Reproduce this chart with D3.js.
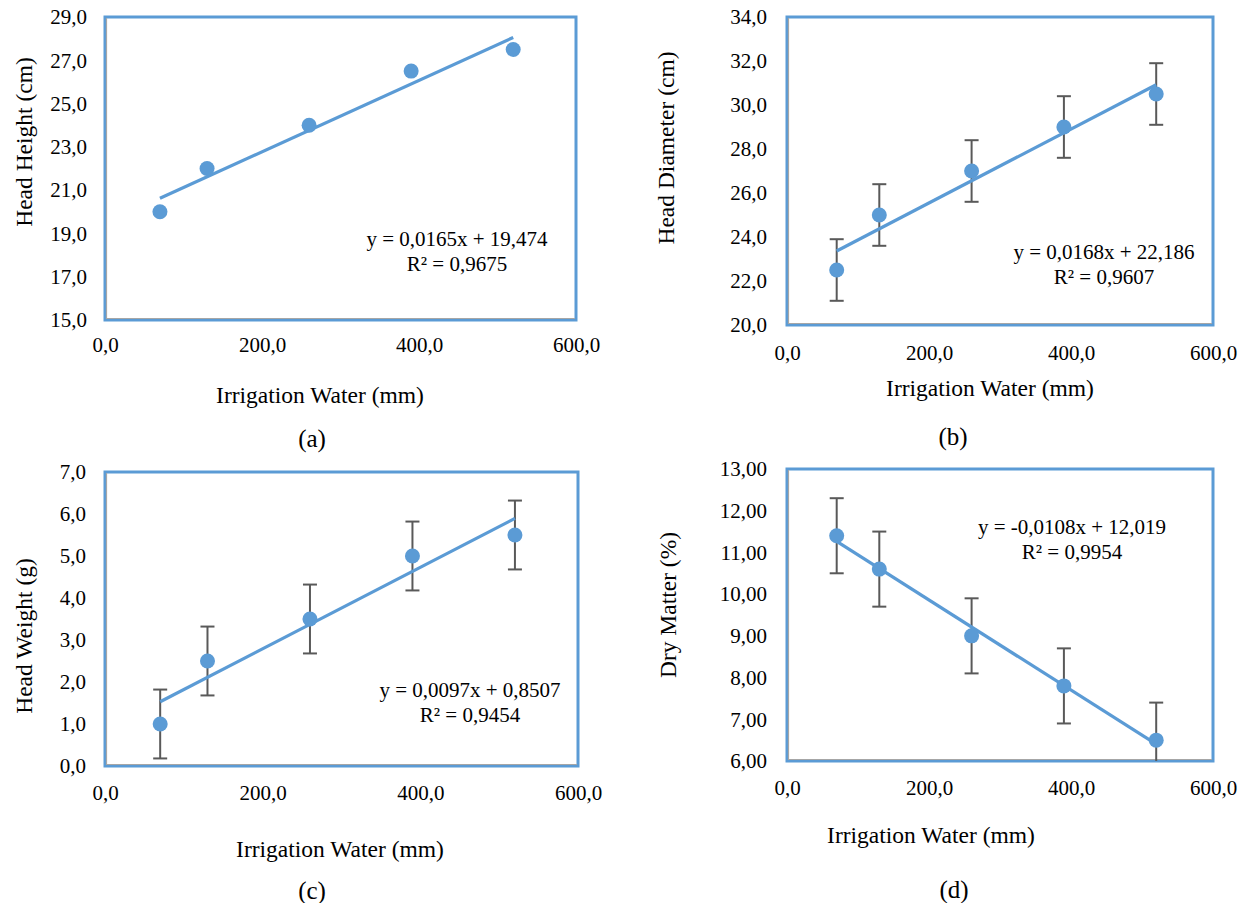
<!DOCTYPE html>
<html>
<head>
<meta charset="utf-8">
<script src="https://cdn.jsdelivr.net/npm/d3@7"></script>
<style>
  body { margin: 0; background: #fff; }
  svg { display: block; }
  text { font-family: "Liberation Serif", "Times New Roman", serif; fill: #000; }
</style>
</head>
<body>
<div id="chart"></div>
<script>
// data
const irrigation = [70, 130, 260, 390, 520];

const headHeight = [20.0, 22.0, 24.0, 26.5, 27.5];
const headDiameter = [22.5, 25.0, 27.0, 29.0, 30.5];
const headDiameterErr = [1.4, 1.4, 1.4, 1.4, 1.4];
const headWeight = [1.0, 2.5, 3.5, 5.0, 5.5];
const headWeightErr = [0.82, 0.82, 0.82, 0.82, 0.82];
const dryMatter = [11.4, 10.6, 9.0, 7.8, 6.5];
const dryMatterErr = [0.9, 0.9, 0.9, 0.9, 0.9];

// trend lines [slope, intercept]
const trendA = [0.0165, 19.474];
const trendB = [0.0168, 22.186];
const trendC = [0.0097, 0.8507];
const trendD = [-0.0108, 12.019];

const equations = [
  ["y = 0,0165x + 19,474", "R² = 0,9675"],
  ["y = 0,0168x + 22,186", "R² = 0,9607"],
  ["y = 0,0097x + 0,8507", "R² = 0,9454"],
  ["y = -0,0108x + 12,019", "R² = 0,9954"]
];

const xTicks = [0, 200, 400, 600];
const yTicksA = [15, 17, 19, 21, 23, 25, 27, 29];
const yTicksB = [20, 22, 24, 26, 28, 30, 32, 34];
const yTicksC = [0, 1, 2, 3, 4, 5, 6, 7];
const yTicksD = [6, 7, 8, 9, 10, 11, 12, 13];

const width = 1247;
const height = 903;

const blue = "#5b9bd5";
const errGray = "#595959";
const tickSize = 21;
const titleSize = 23.5;

const locale = d3.formatLocale({ decimal: ",", thousands: ".", grouping: [3], currency: ["", ""] });
const fmt1 = locale.format(".1f");
const fmt2 = locale.format(".2f");

const svg = d3.select("#chart")
  .append("svg")
  .attr("width", width)
  .attr("height", height);

function drawPanel(p) {
  const x = d3.scaleLinear().domain([0, 600]).range([p.left, p.right]);
  const y = d3.scaleLinear().domain(d3.extent(p.yTicks)).range([p.bottom, p.top]);
  const g = svg.append("g");

  // plot box
  g.append("rect")
    .attr("x", p.left)
    .attr("y", p.top)
    .attr("width", p.right - p.left)
    .attr("height", p.bottom - p.top)
    .attr("fill", "#fff")
    .attr("stroke", blue)
    .attr("stroke-width", 3);
  // gray axis lines just inside
  g.append("path")
    .attr("d", `M${p.left + 1.5},${p.top + 1}V${p.bottom - 1.5}H${p.right - 1}`)
    .attr("fill", "none")
    .attr("stroke", "#a6a6a6")
    .attr("stroke-width", 1.2);

  // y axis
  const yAxis = g.append("g")
    .attr("transform", `translate(${p.left - p.yPad},0)`)
    .call(d3.axisLeft(y).tickValues(p.yTicks).tickSize(0).tickPadding(0).tickFormat(p.yFmt));
  yAxis.select(".domain").remove();
  yAxis.selectAll("text")
    .attr("font-size", tickSize)
    .attr("font-family", "Liberation Serif, Times New Roman, serif")
    .attr("fill", "#000");

  // x axis
  const xAxis = g.append("g")
    .attr("transform", `translate(0,${p.bottom + p.xPad})`)
    .call(d3.axisBottom(x).tickValues(xTicks).tickSize(0).tickPadding(0).tickFormat(fmt1));
  xAxis.select(".domain").remove();
  xAxis.selectAll("text")
    .attr("y", 0)
    .attr("dy", "0.35em")
    .attr("font-size", tickSize)
    .attr("font-family", "Liberation Serif, Times New Roman, serif")
    .attr("fill", "#000");

  // error bars
  if (p.err) {
    const eb = g.append("g")
      .attr("stroke", errGray)
      .attr("stroke-width", 2);
    p.values.forEach((v, i) => {
      const cx = x(irrigation[i]);
      const y1 = y(Math.max(v - p.err[i], d3.min(p.yTicks)));
      const y2 = y(v + p.err[i]);
      eb.append("line").attr("x1", cx).attr("x2", cx).attr("y1", y1).attr("y2", y2);
      eb.append("line").attr("x1", cx - 7).attr("x2", cx + 7).attr("y1", y2).attr("y2", y2);
      if (v - p.err[i] > d3.min(p.yTicks)) {
        eb.append("line").attr("x1", cx - 7).attr("x2", cx + 7).attr("y1", y1).attr("y2", y1);
      }
    });
  }

  // trend line
  const x0 = d3.min(irrigation), x1 = d3.max(irrigation);
  g.append("line")
    .attr("x1", x(x0))
    .attr("y1", y(p.trend[0] * x0 + p.trend[1]))
    .attr("x2", x(x1))
    .attr("y2", y(p.trend[0] * x1 + p.trend[1]))
    .attr("stroke", blue)
    .attr("stroke-width", 3.2);

  // points
  g.selectAll("circle.pt")
    .data(p.values)
    .enter()
    .append("circle")
    .attr("class", "pt")
    .attr("cx", (d, i) => x(irrigation[i]))
    .attr("cy", d => y(d))
    .attr("r", 7.5)
    .attr("fill", blue);

  // equation
  p.eq.forEach((line, i) => {
    g.append("text")
      .attr("x", p.eqX)
      .attr("y", p.eqY + i * 25)
      .attr("text-anchor", "middle")
      .attr("font-size", tickSize)
      .text(line);
  });

  // y title
  g.append("text")
    .attr("transform", `translate(${p.yTitleX},${p.yTitleY}) rotate(-90)`)
    .attr("text-anchor", "middle")
    .attr("dy", "0.35em")
    .attr("font-size", titleSize)
    .text(p.yTitle);

  // x title
  g.append("text")
    .attr("x", p.xTitleX)
    .attr("y", p.xTitleY)
    .attr("text-anchor", "middle")
    .attr("dy", "0.35em")
    .attr("font-size", titleSize)
    .text("Irrigation Water (mm)");

  // panel letter
  g.append("text")
    .attr("x", p.capX)
    .attr("y", p.capY)
    .attr("text-anchor", "middle")
    .attr("dy", "0.35em")
    .attr("font-size", 25)
    .text(p.cap);
}

drawPanel({
  left: 105, right: 576, top: 17, bottom: 320,
  yTicks: yTicksA, yFmt: fmt1, values: headHeight, err: null, trend: trendA,
  yPad: 18, xPad: 25,
  eq: equations[0], eqX: 457, eqY: 246,
  yTitle: "Head Height (cm)", yTitleX: 24, yTitleY: 142,
  xTitleX: 320, xTitleY: 395, cap: "(a)", capX: 312, capY: 438
});

drawPanel({
  left: 787, right: 1213, top: 17, bottom: 325,
  yTicks: yTicksB, yFmt: fmt1, values: headDiameter, err: headDiameterErr, trend: trendB,
  yPad: 20, xPad: 28,
  eq: equations[1], eqX: 1104, eqY: 259,
  yTitle: "Head Diameter (cm)", yTitleX: 666, yTitleY: 148,
  xTitleX: 990, xTitleY: 388, cap: "(b)", capX: 953, capY: 436
});

drawPanel({
  left: 105, right: 578, top: 472, bottom: 766,
  yTicks: yTicksC, yFmt: fmt1, values: headWeight, err: headWeightErr, trend: trendC,
  yPad: 19, xPad: 27,
  eq: equations[2], eqX: 470, eqY: 697,
  yTitle: "Head Weight (g)", yTitleX: 24, yTitleY: 636,
  xTitleX: 340, xTitleY: 849, cap: "(c)", capX: 312, capY: 890
});

drawPanel({
  left: 787, right: 1213, top: 469, bottom: 761,
  yTicks: yTicksD, yFmt: fmt2, values: dryMatter, err: dryMatterErr, trend: trendD,
  yPad: 20, xPad: 27,
  eq: equations[3], eqX: 1072, eqY: 534,
  yTitle: "Dry Matter (%)", yTitleX: 668, yTitleY: 605,
  xTitleX: 931, xTitleY: 835, cap: "(d)", capX: 954, capY: 889
});
</script>
</body>
</html>
